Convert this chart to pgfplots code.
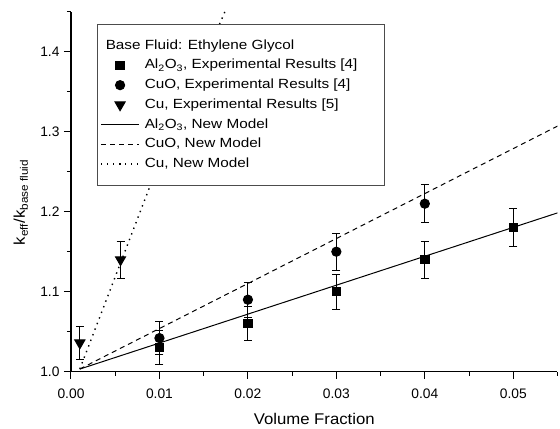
\documentclass[border=0pt]{standalone}
\usepackage{pgfplots}
\pgfplotsset{compat=1.18}
\usepackage{fontspec}
\setmainfont{Liberation Sans}
\newfontfamily\legfont[FakeStretch=1.15]{Liberation Sans}
\newfontfamily\labfont[FakeStretch=1.08]{Liberation Sans}

\pgfplotstableread{
x     y     e
0.01  1.030 0.021
0.02  1.060 0.021
0.03  1.100 0.022
0.04  1.140 0.023
0.05  1.180 0.024
}\alexp
\pgfplotstableread{
x     y     e
0.01  1.042 0.021
0.02  1.090 0.022
0.03  1.150 0.023
0.04  1.210 0.024
}\cuoexp
\pgfplotstableread{
x      y     e
0.001  1.036 0.021
0.0056 1.140 0.023
}\cuexp

\begin{document}
\begin{tikzpicture}
\begin{axis}[
  name=ax,
  scale only axis,
  width=486.5bp, height=360bp,
  xmin=0, xmax=0.055, ymin=1.0, ymax=1.45,
  axis x line*=bottom, axis y line*=left,
  axis line style={line width=1.1bp},
  xtick={0,0.01,0.02,0.03,0.04,0.05},
  minor xtick={0.005,0.015,0.025,0.035,0.045,0.055},
  ytick={1.0,1.1,1.2,1.3,1.4},
  minor ytick={1.05,1.15,1.25,1.35,1.45},
  tick align=outside,
  major tick length=7bp, minor tick length=4bp,
  every tick/.style={line width=1bp, black},
  scaled x ticks=false, scaled y ticks=false,
  xticklabel style={/pgf/number format/.cd, fixed, fixed zerofill, precision=2, assume math mode=true, /tikz/.cd, yshift=-7bp},
  yticklabel style={/pgf/number format/.cd, fixed, fixed zerofill, precision=1, assume math mode=true, /tikz/.cd, xshift=-1bp},
  ticklabel style={font=\fontsize{13.8bp}{16bp}\selectfont},
  xlabel={Volume Fraction},
  ylabel={k\textsubscript{eff}/k\textsubscript{base fluid}},
  label style={font=\labfont\fontsize{15.5bp}{18bp}\selectfont},
  xlabel style={at={(axis description cs:0.5,-0.147)}, anchor=base},
  ylabel style={at={(axis description cs:-0.0946,0.47)}, anchor=base},
  legend style={at={(rel axis cs:0.0534,0.9658)}, anchor=north west,
    draw=black!70, line width=0.8bp, inner xsep=3bp, inner ysep=11.5bp,
    font=\legfont\fontsize{13.3bp}{15bp}\selectfont,
    row sep=0pt, column sep=5bp,
    nodes={inner xsep=0bp, inner ysep=1.35bp, text height=12bp, text depth=5bp}},
  legend cell align=left,
  legend image code/.code={\draw[mark repeat=2,mark phase=2,#1] plot coordinates {(0bp,0bp) (19bp,0bp) (38bp,0bp)};},
]
\addlegendimage{empty legend}
\addlegendentry{\hspace*{-39bp}\makebox[276bp][l]{Base Fluid: Ethylene Glycol}}

\addplot[only marks, mark=square*, mark size=4.2bp, black, line width=1bp,
  error bars/.cd, y dir=both, y explicit,
  error bar style={line width=1bp, black},
  error mark options={rotate=90, mark size=4bp, line width=1bp, black}]
  table[x=x, y=y, y error=e] {\alexp};
\addlegendentry{Al\textsubscript{2}O\textsubscript{3}, Experimental Results [4]}

\addplot[only marks, mark=*, mark size=4.6bp, black, line width=1bp,
  error bars/.cd, y dir=both, y explicit,
  error bar style={line width=1bp, black},
  error mark options={rotate=90, mark size=4bp, line width=1bp, black}]
  table[x=x, y=y, y error=e] {\cuoexp};
\addlegendentry{CuO, Experimental Results [4]}

\addplot[only marks, mark=triangle*, mark options={rotate=180}, mark size=5.8bp, black, line width=1bp,
  error bars/.cd, y dir=both, y explicit,
  error bar style={line width=1bp, black},
  error mark options={rotate=90, mark size=4bp, line width=1bp, black}]
  table[x=x, y=y, y error=e] {\cuexp};
\addlegendentry{Cu, Experimental Results [5]}

\addplot[black, line width=1bp, no marks] coordinates {(0.001,1.0033) (0.055,1.1985)};
\addlegendentry{Al\textsubscript{2}O\textsubscript{3}, New Model}

\addplot[black, line width=1bp, no marks, dash pattern=on 5bp off 4bp] coordinates {(0.001,1.0034) (0.055,1.307)};
\addlegendentry{CuO, New Model}

\addplot[black, line width=1.4bp, no marks, dash pattern=on 1.4bp off 4.6bp] coordinates {(0.001,1.0034) (0.0089,1.231) (0.0174,1.45)};
\addlegendentry{Cu, New Model}
\end{axis}
\path (ax.south west) ++(-71bp,-56.3bp) rectangle ++(560bp,428bp);
\end{tikzpicture}
\end{document}
